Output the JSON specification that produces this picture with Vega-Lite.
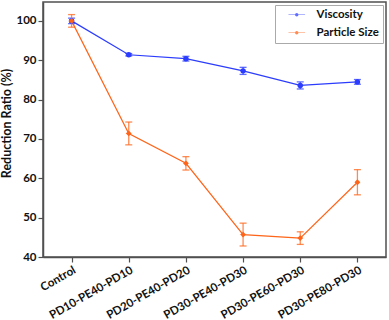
{
  "$schema": "https://vega.github.io/schema/vega-lite/v6.json",
  "width": 343,
  "height": 255,
  "autosize": {"type": "none"},
  "padding": {"left": 43, "top": 2, "right": 3, "bottom": 63},
  "config": {
    "font": "Lato",
    "view": {"stroke": "#505050", "strokeWidth": 1.5},
    "axis": {"grid": false, "domainColor": "#505050", "domainWidth": 1.5, "tickColor": "#505050", "tickWidth": 1.2, "tickSize": 5, "labelColor": "#111", "labelFontWeight": "bold", "titleColor": "#111"}
  },
  "data": {
    "values": [
      {"sample": "Control", "series": "Viscosity", "value": 100, "err": 0.7},
      {"sample": "PD10-PE40-PD10", "series": "Viscosity", "value": 91.4, "err": 0.3},
      {"sample": "PD20-PE40-PD20", "series": "Viscosity", "value": 90.4, "err": 0.6},
      {"sample": "PD30-PE40-PD30", "series": "Viscosity", "value": 87.3, "err": 0.9},
      {"sample": "PD30-PE60-PD30", "series": "Viscosity", "value": 83.6, "err": 0.9},
      {"sample": "PD30-PE80-PD30", "series": "Viscosity", "value": 84.5, "err": 0.6},
      {"sample": "Control", "series": "Particle Size", "value": 100, "err": 1.6},
      {"sample": "PD10-PE40-PD10", "series": "Particle Size", "value": 71.4, "err": 2.9},
      {"sample": "PD20-PE40-PD20", "series": "Particle Size", "value": 63.8, "err": 1.7},
      {"sample": "PD30-PE40-PD30", "series": "Particle Size", "value": 45.7, "err": 2.9},
      {"sample": "PD30-PE60-PD30", "series": "Particle Size", "value": 44.8, "err": 1.6},
      {"sample": "PD30-PE80-PD30", "series": "Particle Size", "value": 59.0, "err": 3.2}
    ]
  },
  "encoding": {
    "x": {
      "field": "sample", "type": "ordinal", "sort": null,
      "scale": {"type": "point", "padding": 0.5},
      "axis": {"title": null, "labelAngle": -30, "labelFontSize": 11.5, "labelPadding": 2}
    },
    "y": {
      "field": "value", "type": "quantitative",
      "scale": {"domain": [40, 104.8], "nice": false, "zero": false},
      "axis": {"title": "Reduction Ratio (%)", "values": [40, 50, 60, 70, 80, 90, 100], "labelFontSize": 11.5, "labelPadding": 2, "titleFontSize": 12.5, "titleFontWeight": "bold", "titleX": -30, "titleY": 121}
    },
    "color": {
      "field": "series", "type": "nominal",
      "scale": {"domain": ["Viscosity", "Particle Size"], "range": ["#2b3cff", "#ff6418"]},
      "legend": {
        "title": null, "orient": "top-right", "offset": 3,
        "strokeColor": "#aaa", "fillColor": "white", "padding": 4,
        "labelFontSize": 11.5, "labelFontWeight": "bold", "labelColor": "#111",
        "symbolType": "M-2.5,-0.09H2.5V0.09H-2.5Z M-0.5,0A0.5,0.5 0 1,1 0.5,0A0.5,0.5 0 1,1 -0.5,0Z",
        "symbolSize": 44, "symbolOffset": 12, "labelOffset": 14, "rowPadding": 5,
        "symbolStrokeWidth": 0
      }
    }
  },
  "layer": [
    {
      "mark": {"type": "errorbar", "ticks": {"size": 7}, "opacity": 0.75, "thickness": 1.3},
      "encoding": {
        "yError": {"field": "err"}
      }
    },
    {
      "mark": {"type": "line", "strokeWidth": 1.2}
    },
    {
      "transform": [{"filter": "datum.series === 'Viscosity'"}],
      "mark": {"type": "point", "filled": true, "opacity": 1, "size": 30, "shape": "circle"}
    },
    {
      "transform": [{"filter": "datum.series === 'Particle Size'"}],
      "mark": {"type": "point", "filled": true, "opacity": 1, "size": 34, "shape": "diamond"}
    }
  ]
}
